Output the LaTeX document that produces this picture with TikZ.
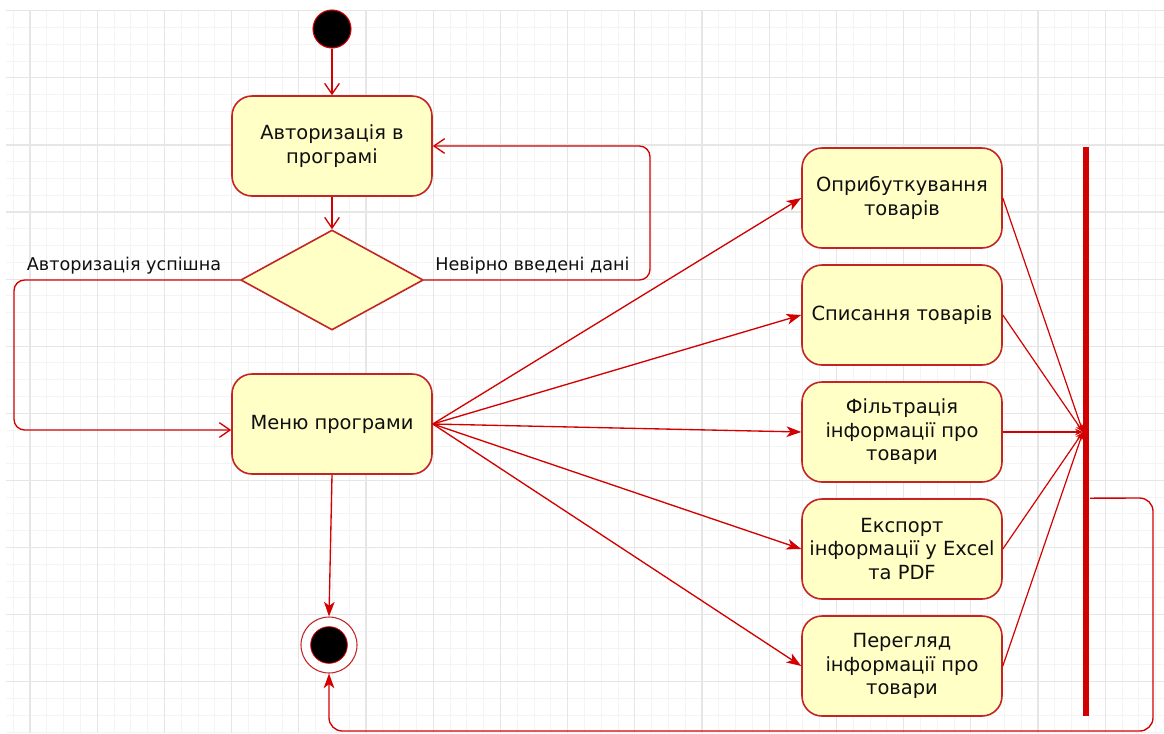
\documentclass[tikz,border=0pt]{standalone}
\usepackage{fontspec}
\setmainfont{DejaVu Sans}
\usetikzlibrary{arrows.meta,shapes.geometric}
\definecolor{boxred}{RGB}{196,36,36}
\definecolor{linered}{RGB}{210,0,0}
\definecolor{fillyel}{RGB}{255,255,198}
\definecolor{minorg}{RGB}{244,244,244}
\definecolor{majorg}{RGB}{230,230,230}
\definecolor{txt}{RGB}{15,15,15}
\begin{document}
\begin{tikzpicture}[x=0.75pt,y=-0.75pt,
  action/.style={draw=boxred, fill=fillyel, line width=1.2pt, rounded corners=15pt,
    minimum width=150pt, minimum height=75pt, align=center, text=txt,
    font=\fontsize{14.6}{17.6}\selectfont, inner sep=2pt},
  decision/.style={shape=diamond, draw=boxred, fill=fillyel, line width=1.2pt,
    minimum width=137pt, minimum height=75pt, inner sep=0pt},
  lbl/.style={text=txt, font=\fontsize{13.2}{17}\selectfont, inner sep=0pt},
  openarr/.style={draw=linered, line width=1pt, -{Straight Barb[length=8pt,width=11pt]}},
  fillarr/.style={draw=linered, line width=1pt, -{Stealth[length=11pt,width=8pt,inset=3pt]}},
  smallarr/.style={draw=linered, line width=0.9pt, -{Stealth[length=6pt,width=5pt,inset=2pt]}},
  minorline/.style={draw=minorg, line width=0.75pt},
  majorline/.style={draw=majorg, line width=0.9pt}]
\useasboundingbox (0,0) rectangle (1164,733);
\fill[white] (0,0) rectangle (1164,733);
% grid
\foreach \i in {0,...,69} \draw[minorline] ({13.2+16.8*\i},10.7) -- ({13.2+16.8*\i},733);
\foreach \j in {0,...,43} \draw[minorline] (6,{10.7+16.775*\j}) -- (1164,{10.7+16.775*\j});
\foreach \i in {0,...,17} \draw[majorline] ({30+67.2*\i},10.7) -- ({30+67.2*\i},733);
\foreach \j in {0,...,10} \draw[majorline] (6,{10.7+67.1*\j}) -- (1164,{10.7+67.1*\j});

% nodes
\node[circle, fill=black, draw=linered, line width=0.8pt, minimum size=28.5pt, inner sep=0pt] (start) at (332,29) {};
\node[action] (auth) at (332,146) {Авторизація в\\програмі};
\node[decision] (dec) at (332,280) {};
\node[action] (menu) at (332,424) {Меню програми};
\node[circle, draw=boxred, line width=0.8pt, fill=white, minimum size=42pt, inner sep=0pt] (final) at (329,645) {};
\node[circle, fill=black, draw=linered, line width=0.6pt, minimum size=27.5pt, inner sep=0pt] (finalin) at (329,645) {};

\node[action] (b1) at (902,198) {Оприбуткування\\товарів};
\node[action] (b2) at (902,315) {Списання товарів};
\node[action] (b3) at (902,432) {Фільтрація\\інформації про\\товари};
\node[action] (b4) at (902,549) {Експорт\\інформації у Excel\\та PDF};
\node[action] (b5) at (902,666) {Перегляд\\інформації про\\товари};

\node[fill=linered, minimum width=5pt, minimum height=427pt, inner sep=0pt] (bar) at (1086,431.5) {};
\coordinate (join) at (1083,432);

\node[lbl, anchor=base west] (lfail) at (435,270) {Невірно введені дані};
\node[lbl, anchor=base] (lok) at (124,270) {Авторизація успішна};

% connectors
\draw[openarr] (start) -- (auth);
\draw[openarr] (auth) -- (dec.north);
\draw[openarr, rounded corners=8pt] (dec.east) -- (650,280) -- (650,146) -- (auth.east);
\draw[openarr, rounded corners=8pt] (dec.west) -- (14,280) -- (14,430) -- ([yshift=-4.5pt]menu.west);
\draw[fillarr] (menu.south) -- (final.north);

\foreach \b in {b1,b2,b3,b4,b5} \draw[fillarr] (menu.east) -- (\b.west);
\foreach \b in {b1,b2,b3,b4,b5} \draw[smallarr] (\b.east) -- (join);

\draw[fillarr, rounded corners=10pt] ([yshift=-50pt]bar.center) ++(3pt,0) -- (1153,498) -- (1153,731) -- (329,731) -- (final.south);
\end{tikzpicture}
\end{document}
